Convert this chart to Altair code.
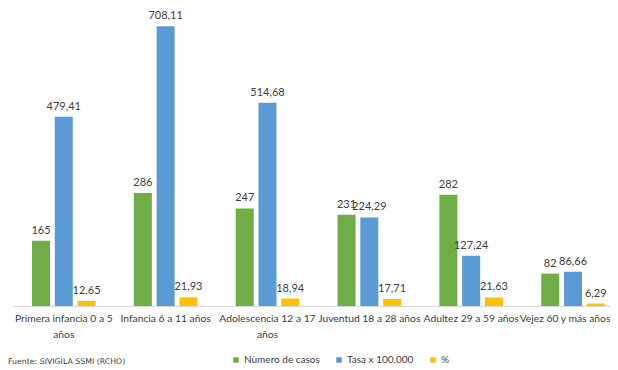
import altair as alt
import pandas as pd

categories = ["Primera infancia 0 a 5 años", "Infancia 6 a 11 años", "Adolescencia 12 a 17 años",
              "Juventud 18 a 28 años", "Adultez 29 a 59 años", "Vejez 60 y más años"]
series = ["Nùmero de casos", "Tasa x 100.000", "%"]
casos = [165, 286, 247, 231, 282, 82]
tasa = [479.41, 708.11, 514.68, 224.29, 127.24, 86.66]
porcentaje = [12.65, 21.93, 18.94, 17.71, 21.63, 6.29]
decimals = [0, 2, 2]
colors = ["#70AD47", "#5B9BD5", "#FFC000"]
wrapped = {"Primera infancia 0 a 5 años": ["Primera infancia 0 a 5", "años"],
           "Adolescencia 12 a 17 años": ["Adolescencia 12 a 17", "años"]}
source_text = "Fuente: SIVIGILA SSMI (RCHO)"

rows = []
for i, c in enumerate(categories):
    for s, vals, dec in zip(series, [casos, tasa, porcentaje], decimals):
        v = vals[i]
        rows.append({"cat": c, "serie": s, "valor": v,
                     "label": f"{v:.{dec}f}".replace(".", ",")})
df = pd.DataFrame(rows)

expr = "datum.label"
for k, lines in wrapped.items():
    arr = "[" + ", ".join(f"'{l}'" for l in lines) + "]"
    expr = f"datum.label == '{k}' ? {arr} : ({expr})"

last_cat = categories[-1]
x_enc = alt.X("cat:N", sort=categories,
              scale=alt.Scale(paddingInner=0.376, paddingOuter=0.1188, align=0.785),
              axis=alt.Axis(title=None, labelAngle=0, ticks=False, domainColor="#D9D9D9",
                            domainWidth=1, labelExpr=expr, labelFontSize=10.3, labelColor="#404040",
                            labelFont="Lato", labelPadding=7, labelLimit=300, labelLineHeight=16,
                            labelOffset=alt.ExprRef(expr=f"datum.value == '{last_cat}' ? -8 : 0")))
xo_enc = alt.XOffset("serie:N", sort=series, scale=alt.Scale(paddingInner=0.209, paddingOuter=0))
y_enc = alt.Y("valor:Q", scale=alt.Scale(domain=[0, 752], nice=False), axis=None)

bars = alt.Chart(df).mark_bar().encode(
    x=x_enc, xOffset=xo_enc, y=y_enc,
    color=alt.Color("serie:N", sort=series,
                    scale=alt.Scale(domain=series, range=colors),
                    legend=alt.Legend(title=None, orient="none", legendX=218, legendY=346,
                                      direction="horizontal", symbolType="square", symbolSize=30,
                                      labelFontSize=10, labelFont="Lato", labelColor="#404040",
                                      columnPadding=14, labelOffset=3, symbolStrokeWidth=0))
)

labels = alt.Chart(df).mark_text(baseline="bottom", dy=-5, fontSize=11, font="Lato",
                                 color="#404040").encode(
    x=x_enc, xOffset=xo_enc, y=y_enc, text="label:N")

source = alt.Chart(pd.DataFrame({"t": [source_text]})).mark_text(
    align="left", baseline="middle", fontSize=7.8, font="DejaVu Sans", color="#404040"
).encode(text="t:N", x=alt.value(-5), y=alt.value(353))

chart = alt.layer(bars, labels, source).properties(
    width=597, height=297,
    autosize=alt.AutoSizeParams(type="none"),
    padding={"left": 5, "top": 1, "right": 0, "bottom": 60},
).configure_view(stroke=None)

chart.save("out.html", embed_options={"renderer": "svg", "actions": False})
